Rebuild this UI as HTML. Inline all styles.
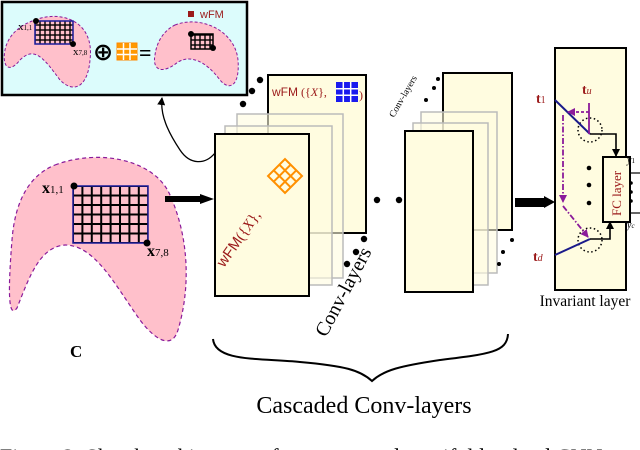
<!DOCTYPE html>
<html><head><meta charset="utf-8"><style>body{margin:0;background:#fff}svg{display:block}</style></head><body>
<svg width="640" height="450" viewBox="0 0 640 450" xmlns="http://www.w3.org/2000/svg" font-family="Liberation Serif, serif">
<defs>
<marker id="ah" markerWidth="8" markerHeight="8" refX="7" refY="4" orient="auto" markerUnits="userSpaceOnUse"><path d="M0,0 L8,4 L0,8 Z" fill="#000"/></marker>
<marker id="ap" markerWidth="8" markerHeight="8" refX="7" refY="4" orient="auto" markerUnits="userSpaceOnUse"><path d="M0,0 L8,4 L0,8 Z" fill="#8a1a9a"/></marker>
<pattern id="g1" width="9.4" height="9.5" patternUnits="userSpaceOnUse" x="73" y="186"><rect width="9.4" height="9.5" fill="none" stroke="#000" stroke-width="2"/></pattern>
<pattern id="g2" width="5" height="5" patternUnits="userSpaceOnUse" x="35" y="20"><rect width="5" height="5" fill="none" stroke="#000" stroke-width="1.4"/></pattern>
</defs>
<rect x="2" y="2" width="245" height="93" fill="#dcfcfc" stroke="#000" stroke-width="2.5"/>
<path d="M35,20 C60,10 95,20 90,60 C88,85 75,95 60,80 C45,60 35,45 20,60 C8,75 2,65 5,50 C8,35 20,25 35,20 Z" fill="#ffc0cb" stroke="#8a1a9a" stroke-width="1" stroke-dasharray="3,2"/>
<rect x="35" y="21" width="38" height="23" fill="url(#g2)" stroke="#1a1a9a" stroke-width="1.5"/>
<circle cx="36" cy="21" r="3"/><circle cx="73" cy="44" r="3"/>
<text x="18" y="30" font-size="11">x<tspan font-size="7">1,1</tspan></text>
<text x="73" y="55" font-size="11">x<tspan font-size="7">7,8</tspan></text>
<text x="93" y="60" font-size="24" font-family="DejaVu Sans" font-weight="bold">⊕</text>
<rect x="117" y="43" width="20" height="17" fill="#ff9900" stroke="#f80"/>
<path d="M117,49h20M117,54.5h20M123.5,43v17M130,43v17" stroke="#fff" stroke-width="1.5"/>
<text x="139" y="60" font-size="22" font-weight="bold">=</text>
<path d="M175,25 C200,15 235,30 238,60 C240,85 230,92 220,80 C205,60 190,55 178,62 C162,75 152,70 155,55 C157,40 165,30 175,25 Z" fill="#ffc0cb" stroke="#8a1a9a" stroke-width="1" stroke-dasharray="3,2"/>
<rect x="191" y="34" width="22" height="15" fill="url(#g2)" stroke="#000" stroke-width="1.5"/>
<circle cx="191" cy="34" r="3"/><circle cx="213" cy="48" r="3"/>
<rect x="188" y="11" width="6" height="6" fill="#9b1a1a"/>
<text x="200" y="18" font-size="11" fill="#9b1a1a" font-family="Liberation Sans, sans-serif">wFM</text>
<path d="M215,153 C205,165 190,165 180,150 C168,132 160,115 162,98" fill="none" stroke="#000" stroke-width="1.3" marker-end="url(#ah)"/>
<path d="M55,165 C100,148 155,160 170,195 C190,240 190,290 178,330 C172,350 155,340 140,320 C115,285 95,245 65,245 C40,247 30,275 17,308 C8,320 8,290 12,240 C15,200 30,175 55,165 Z" fill="#ffc0cb" stroke="#8a1a9a" stroke-width="1.2" stroke-dasharray="4,3"/>
<rect x="73" y="186" width="75" height="57" fill="url(#g1)" stroke="#1a1a9a" stroke-width="1.5"/>
<circle cx="74" cy="186" r="3.5"/><circle cx="147" cy="243" r="3.5"/>
<text x="42" y="193" font-size="16" font-weight="bold">x<tspan font-size="11" font-weight="normal">1,1</tspan></text>
<text x="147" y="256" font-size="16" font-weight="bold">x<tspan font-size="11" font-weight="normal">7,8</tspan></text>
<text x="70" y="357" font-size="17" font-weight="bold">C</text>
<path d="M165,196 h36 v6 h-36 z" fill="#000"/><path d="M200,194 L214,199 L200,204Z"/>
<rect x="268" y="75" width="98" height="158" fill="#fffce0" stroke="#000" stroke-width="2"/>
<text x="272" y="96" font-size="12" fill="#9b1a1a"><tspan font-family="Liberation Sans, sans-serif">wFM</tspan> ({<tspan font-style="italic">X</tspan>},</text>
<rect x="336" y="82" width="22" height="20" fill="#1a1aee"/>
<path d="M336,88.7h22M336,95.3h22M343.3,82v20M350.7,82v20" stroke="#fff" stroke-width="1.5"/>
<text x="359" y="99" font-size="12" fill="#9b1a1a">)</text>
<rect x="237" y="114" width="106" height="164" fill="#fffce0" fill-opacity="0.6" stroke="#bbb" stroke-width="1.5"/>
<rect x="225" y="126" width="107" height="159" fill="#fffce0" fill-opacity="0.6" stroke="#bbb" stroke-width="1.5"/>
<rect x="215" y="134" width="94" height="162" fill="#fffce0" stroke="#000" stroke-width="2"/>
<g transform="translate(224,268) rotate(-55)"><text font-size="15" fill="#9b1a1a"><tspan font-family="Liberation Sans, sans-serif">wFM</tspan>({<tspan font-style="italic">X</tspan>},</text></g>
<g transform="translate(285,176) rotate(-45)"><rect x="-12" y="-12" width="24" height="24" fill="none" stroke="#ff9000" stroke-width="2"/><path d="M-4,-12v24M4,-12v24M-12,-4h24M-12,4h24" stroke="#ff9000" stroke-width="2"/></g>
<circle cx="260" cy="80" r="3.2"/><circle cx="252" cy="91" r="3.2"/><circle cx="243" cy="104" r="3.2"/>
<circle cx="364" cy="239" r="3.2"/><circle cx="356" cy="252" r="3.2"/><circle cx="347" cy="264" r="3.2"/>
<g transform="translate(326,338) rotate(-62)"><text font-size="20">Conv-layers</text></g>
<circle cx="377" cy="200" r="3.2"/><circle cx="399" cy="200" r="3.2"/>
<rect x="443" y="73" width="69" height="157" fill="#fffce0" stroke="#000" stroke-width="2"/>
<rect x="421" y="112" width="76" height="161" fill="#fffce0" fill-opacity="0.6" stroke="#bbb" stroke-width="1.5"/>
<rect x="413" y="123" width="75" height="162" fill="#fffce0" fill-opacity="0.6" stroke="#bbb" stroke-width="1.5"/>
<rect x="405" y="131" width="68" height="161" fill="#fffce0" stroke="#000" stroke-width="2"/>
<g transform="translate(394,118) rotate(-60)"><text font-size="9.5">Conv-layers</text></g>
<circle cx="438" cy="79" r="2"/><circle cx="434" cy="88" r="2"/><circle cx="426" cy="100" r="2"/>
<circle cx="512" cy="240" r="2"/><circle cx="503" cy="252" r="2"/><circle cx="499" cy="264" r="2"/>
<path d="M515,198 h30 v9 h-30 z" fill="#000"/><path d="M544,196 L555,202 L544,208Z"/>
<rect x="555" y="48" width="71" height="242" fill="#fffce0" stroke="#000" stroke-width="2"/>
<text x="585" y="306" font-size="15.5" text-anchor="middle">Invariant layer</text>
<text x="536" y="103" font-size="14" fill="#9b1a1a" font-weight="bold">t<tspan font-size="10" font-weight="normal">1</tspan></text>
<text x="582" y="94" font-size="14" fill="#9b1a1a" font-weight="bold">t<tspan font-size="10" font-style="italic" font-weight="normal">u</tspan></text>
<text x="533" y="261" font-size="14" fill="#9b1a1a" font-weight="bold">t<tspan font-size="10" font-style="italic" font-weight="normal">d</tspan></text>
<circle cx="590" cy="130" r="12" fill="none" stroke="#000" stroke-width="1.5" stroke-dasharray="1.5,2.5"/>
<circle cx="590" cy="240" r="12" fill="none" stroke="#000" stroke-width="1.5" stroke-dasharray="1.5,2.5"/>
<path d="M555,100 L590,134" stroke="#1a1a8a" stroke-width="2"/>
<path d="M555,255 L590,239" stroke="#1a1a8a" stroke-width="2"/>
<path d="M589,103 V134" stroke="#8a1a9a" stroke-width="1.8"/>
<path d="M589,112 H568" stroke="#8a1a9a" stroke-width="1.8" stroke-dasharray="3,2" marker-end="url(#ap)"/>
<path d="M563,115 V202" stroke="#8a1a9a" stroke-width="1.8" stroke-dasharray="6,2,1.5,2" marker-end="url(#ap)"/>
<path d="M563,206 L588,237" stroke="#8a1a9a" stroke-width="1.8" stroke-dasharray="6,2,1.5,2" marker-end="url(#ap)"/>
<path d="M590,134 H616 V156" fill="none" stroke="#000" stroke-width="1.6" marker-end="url(#ah)"/>
<path d="M590,239 H610 V222" fill="none" stroke="#000" stroke-width="1.6" marker-end="url(#ah)"/>
<rect x="603" y="157" width="27" height="65" fill="#fffce0" stroke="#000" stroke-width="2"/>
<g transform="translate(621,216) rotate(-90)"><text font-size="13" fill="#9b1a1a">FC layer</text></g>
<circle cx="589" cy="168" r="2.3"/><circle cx="589" cy="185" r="2.3"/><circle cx="589" cy="203" r="2.3"/>
<circle cx="631" cy="183" r="1.8"/><circle cx="631" cy="192" r="1.8"/><circle cx="631" cy="201" r="1.8"/>
<text x="627" y="163" font-size="10" font-style="italic">y<tspan font-size="7" font-style="normal">1</tspan></text>
<path d="M630,173 H640" stroke="#000" stroke-width="1.2"/>
<path d="M630,213 H640" stroke="#000" stroke-width="1.2"/>
<text x="627" y="228" font-size="10" font-style="italic">y<tspan font-size="7">c</tspan></text>
<path d="M213,339 C215,362 260,358 300,362 C345,366 360,370 372,381 C384,370 400,366 440,360 C490,354 507,352 508,334" fill="none" stroke="#000" stroke-width="2"/>
<text x="364" y="413" font-size="24" text-anchor="middle">Cascaded Conv-layers</text>
<text x="0" y="464" font-size="22">Figure 2: Sketch architecture of our proposed manifold-valued CNN</text>
</svg>
</body></html>
